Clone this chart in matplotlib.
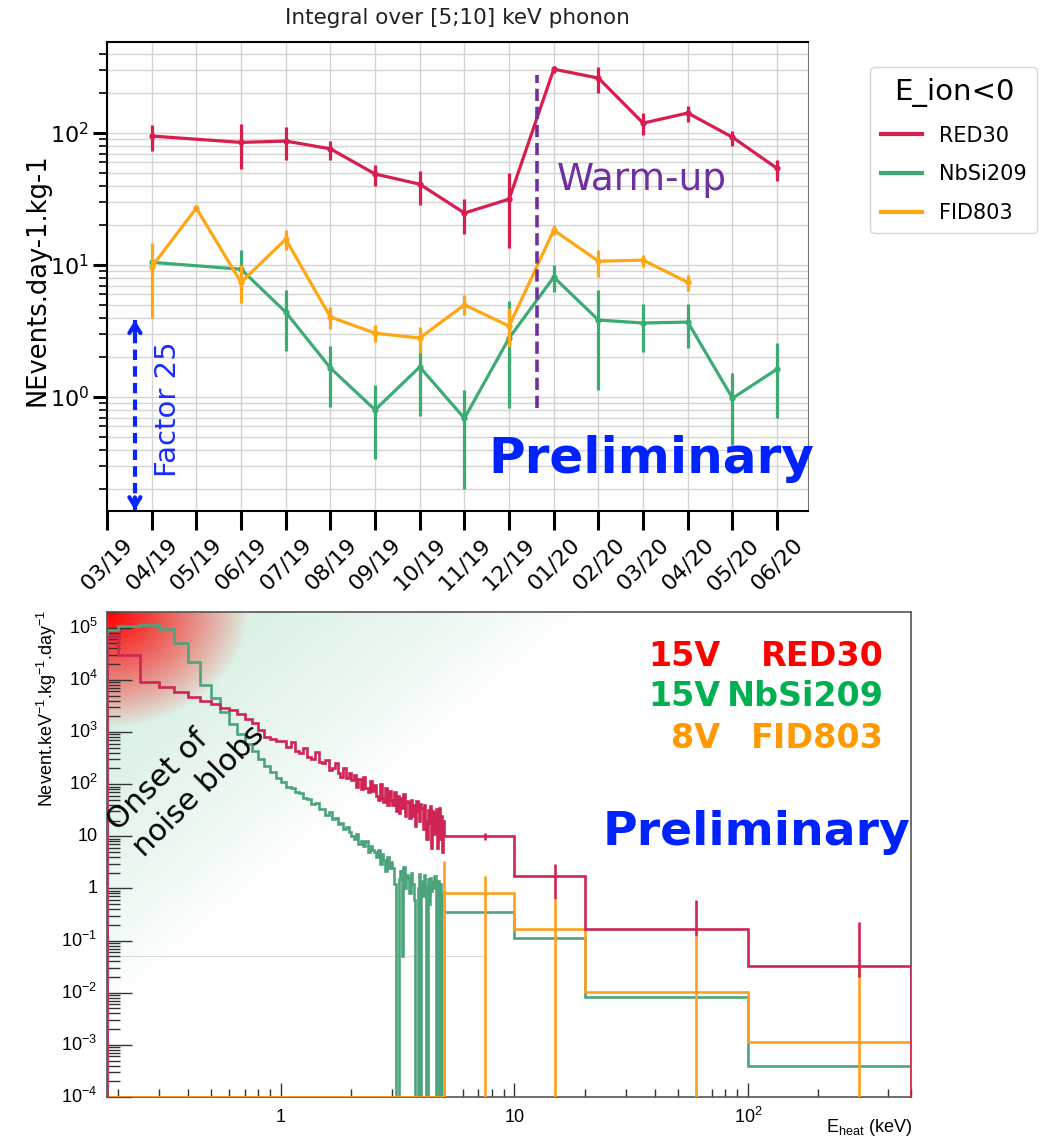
import numpy as np
import matplotlib
matplotlib.use("Agg")
import matplotlib.pyplot as plt
import matplotlib.transforms as mtransforms
from matplotlib.lines import Line2D
from matplotlib.ticker import LogLocator, NullFormatter

W, H = 1050, 1138

# ---------------- top panel: integral rate [5;10] keV per month ----------------
months = ["03/19", "04/19", "05/19", "06/19", "07/19", "08/19", "09/19", "10/19",
          "11/19", "12/19", "01/20", "02/20", "03/20", "04/20", "05/20", "06/20"]

red_month = ["04/19", "06/19", "07/19", "08/19", "09/19", "10/19", "11/19", "12/19",
             "01/20", "02/20", "03/20", "04/20", "05/20", "06/20"]
red_rate = [95, 85, 87, 76, 49, 41, 24.8, 31.6, 305, 261, 119, 142, 93, 54]
red_lo = [73, 53, 62, 62, 40, 28.5, 17.2, 13.4, 285, 203, 97, 121, 80, 43]
red_hi = [115, 117, 111, 87, 57, 52, 31.6, 50, 325, 316, 141, 160, 104, 62]

nbsi_month = ["04/19", "06/19", "07/19", "08/19", "09/19", "10/19", "11/19", "12/19",
              "01/20", "02/20", "03/20", "04/20", "05/20", "06/20"]
nbsi_rate = [10.5, 9.3, 4.4, 1.66, 0.80, 1.69, 0.69, 2.8, 8.1, 3.83, 3.64, 3.7, 0.98, 1.63]
nbsi_lo = [9.8, 6.5, 2.23, 0.84, 0.34, 0.72, 0.2, 0.83, 6.2, 1.13, 2.2, 2.35, 0.43, 0.69]
nbsi_hi = [11.2, 13, 6.5, 2.43, 1.23, 2.5, 1.13, 5.3, 10.0, 6.45, 5.1, 5.05, 1.52, 2.56]

fid_month = ["04/19", "05/19", "06/19", "07/19", "08/19", "09/19", "10/19", "11/19",
             "12/19", "01/20", "02/20", "03/20", "04/20"]
fid_rate = [9.7, 27, 7.4, 15.7, 4.04, 3.05, 2.8, 5.0, 3.45, 18.4, 10.7, 10.9, 7.4]
fid_lo = [4.0, 25.5, 5.2, 13, 3.3, 2.6, 2.15, 4.2, 2.4, 16.8, 8.1, 9.7, 6.4]
fid_hi = [14.7, 28.5, 10, 18.4, 4.8, 3.5, 3.4, 5.9, 4.7, 20, 13, 12, 8.4]

warmup_at = 9.62          # between 12/19 and 01/20 (month index)
warmup_span = (0.83, 275)
factor_span = (0.139, 3.83)

# ---------------- bottom panel: energy spectra ----------------
fine_edges = np.concatenate([[0.18], np.linspace(0.2, 5.0, 97)])   # 0.05 keV bins
red_fine = [65000,
            30000, 9000, 7200, 5800, 4700, 4000, 3500, 2900, 2600, 2200, 1800, 1500, 1100, 800, 750, 680,
            680, 520, 640, 440, 400, 500, 330, 300, 410, 270,
            250, 290, 190, 200, 250, 160, 140, 200, 130, 160,
            120, 150, 90, 125, 80, 140, 85, 70, 115, 75,
            95, 60, 50, 100, 55, 45, 85, 40, 75, 50,
            40, 70, 30, 60, 28, 55, 35, 65, 25, 48,
            45, 22, 50, 25, 40, 16, 48, 30, 20, 42,
            35, 14, 40, 20, 9, 32, 18, 38, 6, 30,
            28, 11, 33, 6, 25, 35, 9, 24, 5, 20]
nbsi_fine = [90000,
             110000, 115000, 95000, 50000, 22000, 8000, 4500, 2400, 1400, 900, 600, 430, 300, 220, 170, 130,
             110, 90, 85, 70, 68, 55, 52, 42, 44, 34,
             33, 26, 29, 21, 22, 17, 18, 14, 15, 12,
             10, 9, 11, 7, 8, 6.5, 8, 5, 6.5, 5.5,
             5, 4, 5.5, 3, 4.5, 3.5, 2.2, 4, 2.5, 3.2,
             2.5, 1.2, 0, 0, 1.5, 2.2, 0.05, 2.6, 1.0, 1.8,
             1.6, 0.8, 2.0, 1.2, 0.6, 0, 0, 1.0, 1.9, 0,
             1.4, 0.7, 1.8, 1.1, 0, 1.5, 0.5, 1.6, 0.9, 1.3,
             1.0, 1.7, 0, 0.6, 1.4, 0, 1.2, 0, 0.8, 0]

wide_edges = [5, 10, 20, 100, 500]
red_wide = [10, 1.7, 0.17, 0.032]
nbsi_wide = [0.36, 0.11, 0.0081, 0.0004]
fid_edges = [0.18, 5, 10, 20, 100, 500]
fid_vals = [0, 0.8, 0.17, 0.0104, 0.00115]

red_err_x = [7.5, 15, 60, 300]
red_err_lo = [8.6, 0.64, 0.12, 0.02]
red_err_hi = [11.6, 3.0, 0.59, 0.23]
fid_err_x = [5, 7.5, 15, 60, 300]
fid_err_hi = [3.4, 1.7, 0.64, 0.12, 0.033]

C_RED, C_GRN, C_ORG = "#d81e4f", "#3cab74", "#ffa614"
C_RED2, C_GRN2, C_ORG2 = "#d02454", "#4ca47c", "#ffa020"
BLUE = "#0022ff"

fig = plt.figure(figsize=(W / 100, H / 100), dpi=100, facecolor="white")


def box(l, t, r, b):
    return [l / W, 1 - b / H, (r - l) / W, (b - t) / H]


# ================= top panel =================
ax1 = fig.add_axes(box(107, 42, 808, 511))
series = [(nbsi_month, nbsi_rate, nbsi_lo, nbsi_hi, C_GRN),
          (fid_month, fid_rate, fid_lo, fid_hi, C_ORG),
          (red_month, red_rate, red_lo, red_hi, C_RED)]
for mon, val, lo, hi, c in series:
    x = [months.index(m) for m in mon]
    ax1.plot(x, val, color=c, lw=2.3, marker="o", ms=3.5, zorder=3)
    ax1.vlines(x, lo, hi, color=c, lw=2.3, zorder=3)

ax1.set_yscale("log")
ax1.set_ylim(0.137, 490)
ax1.set_xlim(0, 15.69)
ax1.set_xticks(range(len(months)))
ax1.set_xticklabels(months, rotation=45, fontsize=16)
shift = mtransforms.ScaledTranslation(8 / 100, 0, fig.dpi_scale_trans)
for lab in ax1.get_xticklabels():
    lab.set_transform(lab.get_transform() + shift)
ax1.yaxis.set_minor_formatter(NullFormatter())
ax1.tick_params(axis="x", length=14, width=2.2, pad=3)
ax1.tick_params(axis="y", which="major", length=10, width=2.2, labelsize=16, pad=3)
ax1.tick_params(axis="y", which="minor", length=6, width=1.2)
ax1.grid(True, axis="y", which="both", color="#d4d4d4", lw=1, zorder=0)
ax1.grid(True, axis="x", which="major", color="#d4d4d4", lw=1, zorder=0)
for s in ["left", "bottom", "top"]:
    ax1.spines[s].set_color("black")
    ax1.spines[s].set_linewidth(1.5)
ax1.spines["right"].set_color("#777777")

# warm-up marker
ax1.vlines(warmup_at, *warmup_span, color="#7030a0", lw=2.6, linestyles=(0, (3.4, 1.6)), zorder=4)
ax1.text(10.07, 44, "Warm-up", color="#7030a0", fontsize=27, ha="left", va="center")

# factor 25 arrow
fx = 0.625
ax1.plot([fx, fx], factor_span, color="#0a24ff", lw=3, ls=(0, (2.5, 1.5)), zorder=4, clip_on=False)
for tip, tail in [(factor_span[1], factor_span[1] * 0.8), (factor_span[0], factor_span[0] * 1.25)]:
    ax1.annotate("", xy=(fx, tip), xytext=(fx, tail),
                 arrowprops=dict(arrowstyle="->,head_length=0.65,head_width=0.4",
                                 color="#0a24ff", lw=3, shrinkA=0, shrinkB=0),
                 annotation_clip=False)
fig.text(168 / W, 1 - 409 / H, "Factor 25", rotation=90, ha="center", va="center",
         fontsize=21, color="#1a2cff")

fig.text(488 / W, 1 - 473 / H, "Preliminary", ha="left", va="baseline",
         fontsize=36, fontweight="bold", color=BLUE)
fig.text(457 / W, 1 - 18 / H, "Integral over [5;10] keV phonon", ha="center", va="center",
         fontsize=15.5, color="#222222")
fig.text(38 / W, 1 - 280 / H, "NEvents.day-1.kg-1", rotation=90, ha="center", va="center",
         fontsize=18.5)

handles = [Line2D([], [], color=C_RED, lw=3), Line2D([], [], color=C_GRN, lw=3),
           Line2D([], [], color=C_ORG, lw=3)]
leg = fig.legend(handles, ["RED30", "NbSi209", "FID803"], title="E_ion<0",
                 loc="upper left", bbox_to_anchor=(860 / W, 1 - 57 / H),
                 fontsize=15, title_fontsize=21, labelspacing=0.9,
                 handlelength=2.0, borderpad=0.5, fancybox=True)
leg.get_frame().set_edgecolor("#cccccc")

# ================= bottom panel =================
pos2 = box(107, 612, 911, 1097)
bg = fig.add_axes(pos2, zorder=0)
bg.set_axis_off()
nx, ny = 804, 485
u = np.arange(nx)[None, :]
v = np.arange(ny)[:, None]
green_a = 0.42 * np.clip(1 - (u / 480 + v / 400), 0, 1) ** 0.8
red_a = np.clip(1 - np.sqrt((u / 140) ** 2 + (v / 115) ** 2), 0, 1) ** 0.9
rgb = np.ones((ny, nx, 3))
rgb = rgb * (1 - green_a[..., None]) + np.array([0.55, 0.82, 0.67]) * green_a[..., None]
rgb = rgb * (1 - red_a[..., None]) + np.array([1.0, 0.0, 0.0]) * red_a[..., None]
bg.imshow(rgb, extent=(0, 1, 0, 1), aspect="auto", origin="upper")
bg.set_xlim(0, 1)
bg.set_ylim(0, 1)

ax2 = fig.add_axes(pos2, zorder=1)
ax2.set_facecolor("none")
ax2.set_xscale("log")
ax2.set_yscale("log")

floor = 1e-4
nb_edges = np.concatenate([fine_edges[:-1], wide_edges])
ax2.stairs(np.clip(nbsi_fine + nbsi_wide, floor, None), nb_edges, baseline=floor,
           color=C_GRN2, lw=1.9, zorder=2)
ax2.stairs(np.clip(fid_vals, floor, None), fid_edges, baseline=floor,
           color=C_ORG2, lw=1.9, zorder=3)
ax2.stairs(np.clip(red_fine + red_wide, floor, None), nb_edges, baseline=floor,
           color=C_RED2, lw=1.9, zorder=4)
ax2.vlines(fid_err_x, floor, fid_err_hi, color=C_ORG2, lw=1.9, zorder=3)
ax2.vlines(red_err_x, red_err_lo, red_err_hi, color=C_RED2, lw=1.9, zorder=4)
ax2.axhline(0.051, xmax=0.468, color="#dddddd", lw=0.8, zorder=1)

ax2.set_xlim(0.18, 500)
ax2.set_ylim(1e-4, 2e5)
ax2.xaxis.set_major_locator(LogLocator(base=10, numticks=20))
ax2.xaxis.set_minor_locator(LogLocator(base=10, subs=range(2, 10), numticks=100))
ax2.yaxis.set_major_locator(LogLocator(base=10, numticks=20))
ax2.yaxis.set_minor_locator(LogLocator(base=10, subs=range(2, 10), numticks=100))
ax2.tick_params(which="both", direction="in", top=False, right=False,
                labelleft=False, labelbottom=False, color="#333333")
ax2.tick_params(axis="y", which="major", length=18, width=1)
ax2.tick_params(axis="y", which="minor", length=9, width=1)
ax2.tick_params(axis="x", which="major", length=10, width=1)
ax2.tick_params(axis="x", which="minor", length=6, width=1)
for s in ax2.spines.values():
    s.set_color("#555555")
    s.set_linewidth(1.2)

ytr = mtransforms.blended_transform_factory(ax2.transAxes, ax2.transData)
for k in range(-4, 6):
    lab = "1" if k == 0 else "10" if k == 1 else r"$\mathregular{10^{%d}}$" % k
    ax2.text(-0.012, 10.0 ** k, lab, transform=ytr, ha="right", va="center",
             fontsize=13, family="Liberation Sans")
xtr = mtransforms.blended_transform_factory(ax2.transData, ax2.transAxes)
for k in range(0, 3):
    lab = "1" if k == 0 else "10" if k == 1 else r"$\mathregular{10^{2}}$"
    ax2.text(10.0 ** k, -0.042, lab, transform=xtr, ha="center", va="center",
             fontsize=13, family="Liberation Sans")

fig.text(912 / W, 1 - 1128 / H, r"E$_{\mathregular{heat}}$ (keV)", ha="right", va="center",
         fontsize=13, family="Liberation Sans")
fig.text(47 / W, 1 - 610 / H, r"Nevent.keV$^{\mathregular{-1}}$.kg$^{\mathregular{-1}}$.day$^{\mathregular{-1}}$",
         rotation=90, ha="center", va="top", fontsize=13, family="Liberation Sans")

fig.text(186 / W, 1 - 778 / H, "Onset of\nnoise blobs", rotation=45, ha="center", va="center",
         multialignment="left", fontsize=22, linespacing=1.3)

rows = [("15V", "RED30", "#ff0000", 657), ("15V", "NbSi209", "#00b050", 697),
        ("8V", "FID803", "#ff9900", 738)]
for volt, name, c, yy in rows:
    fig.text(720 / W, 1 - yy / H, volt, ha="right", va="center", fontsize=24,
             fontweight="bold", color=c)
    fig.text(884 / W, 1 - yy / H, name, ha="right", va="center", fontsize=24,
             fontweight="bold", color=c)

fig.text(603 / W, 1 - 845 / H, "Preliminary", ha="left", va="baseline",
         fontsize=34, fontweight="bold", color=BLUE)

fig.savefig("out.png", dpi=100, facecolor="white")
